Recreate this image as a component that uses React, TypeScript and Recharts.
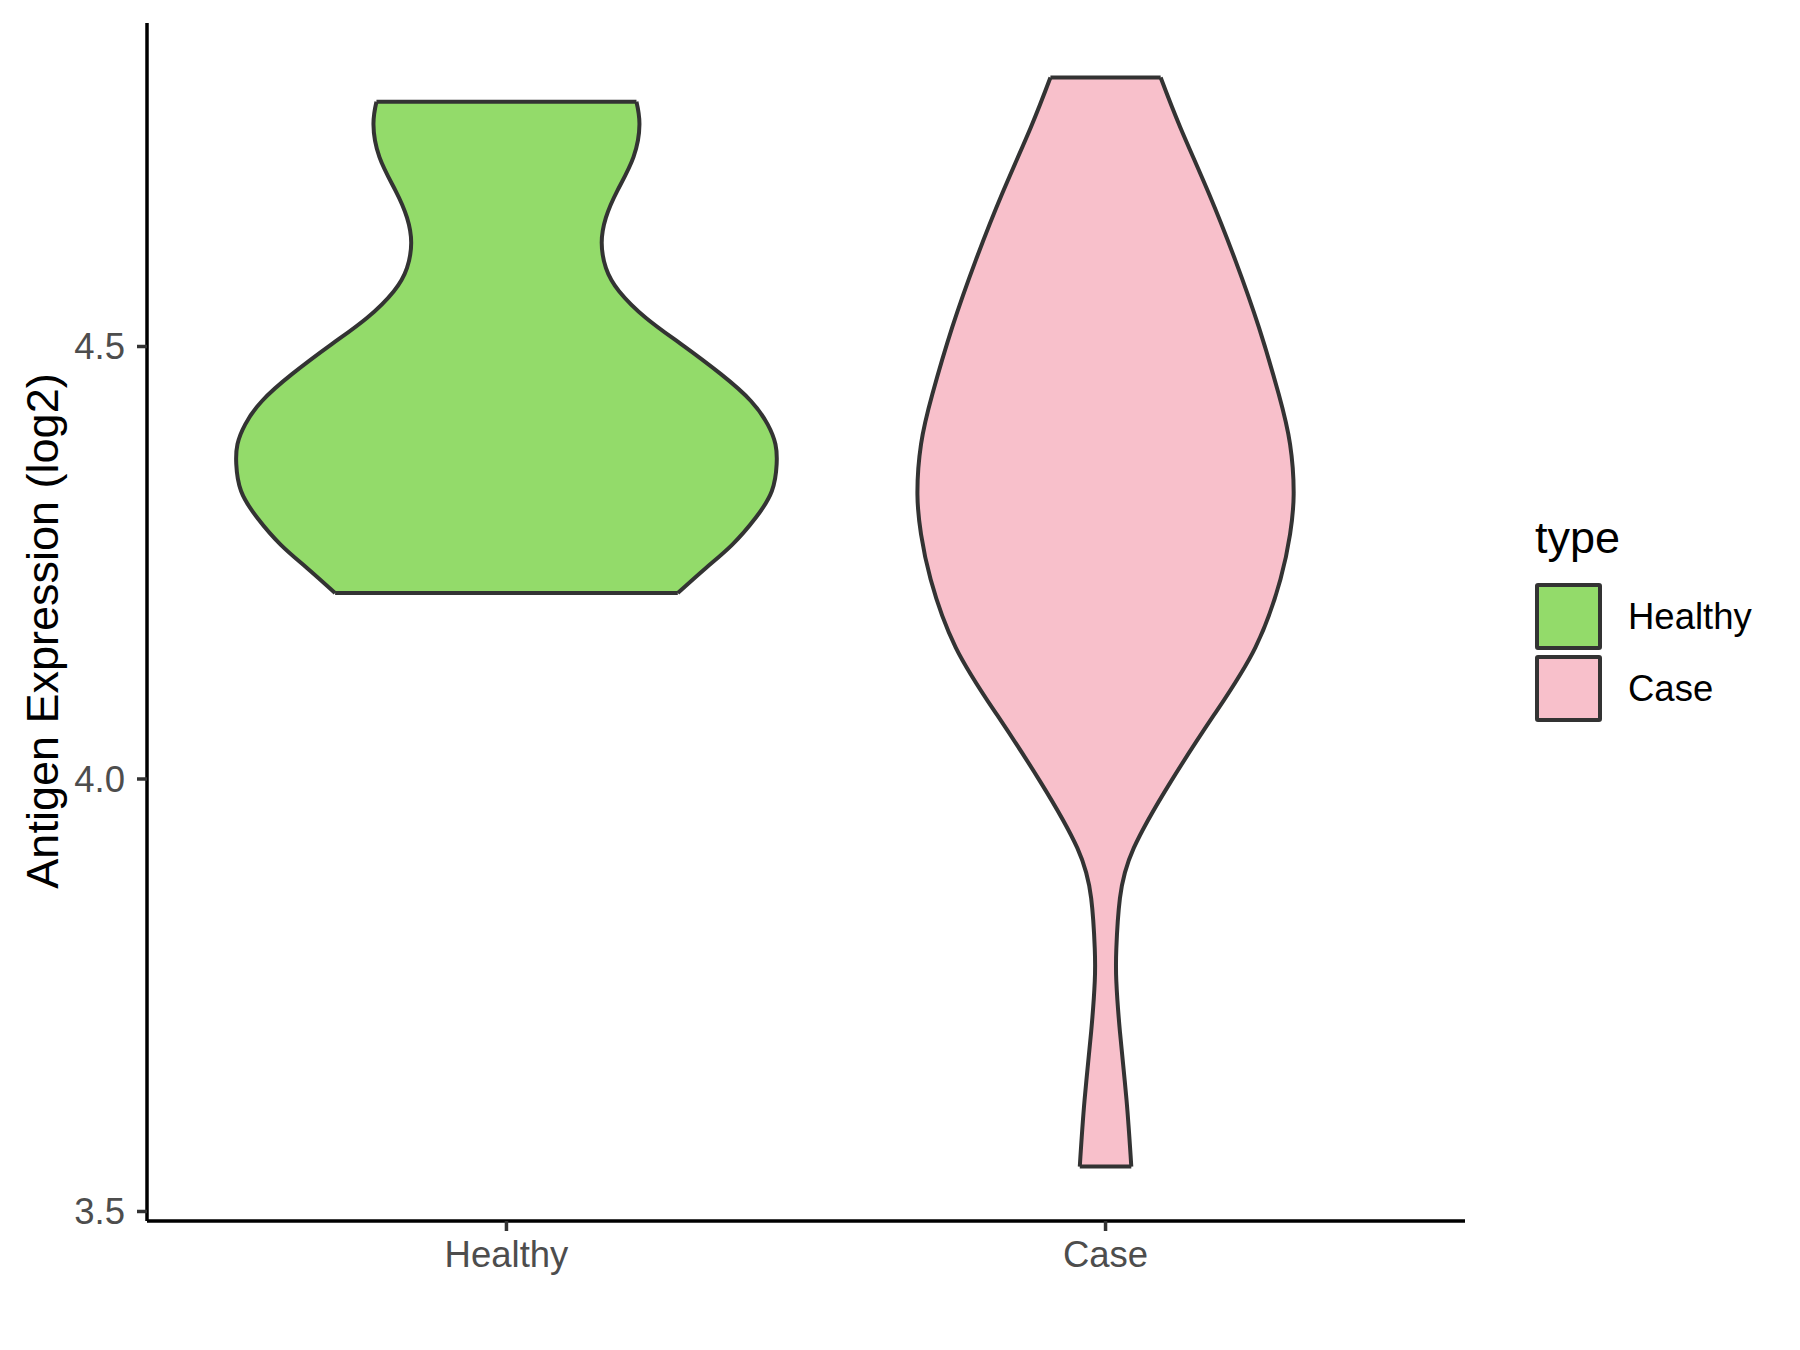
import React from 'react';
import { ComposedChart, Area, XAxis, YAxis, ReferenceLine, Legend } from 'recharts';

const groups = ['Healthy', 'Case'];
const groupColors = ['#93DB6A', '#F8C0CB'];
const yTicks = [3.5, 4.0, 4.5];

// Healthy violin: expression level (log2), top to bottom, and half width in x-axis units
const healthyLevels = [
  4.783, 4.757, 4.719, 4.680, 4.649, 4.620, 4.591, 4.564, 4.533, 4.503,
  4.468, 4.437, 4.410, 4.387, 4.364, 4.333, 4.302, 4.271, 4.244, 4.215,
];
const healthyHalfWidth = [
  0.217, 0.222, 0.212, 0.185, 0.166, 0.159, 0.166, 0.188, 0.233, 0.291,
  0.358, 0.408, 0.436, 0.449, 0.451, 0.443, 0.416, 0.377, 0.333, 0.286,
];

// Case violin
const caseLevels = [
  4.811, 4.753, 4.676, 4.599, 4.522, 4.445, 4.387, 4.329, 4.283, 4.231,
  4.152, 4.074, 3.997, 3.920, 3.862, 3.804, 3.766, 3.708, 3.629, 3.552,
];
const caseHalfWidth = [
  0.092, 0.125, 0.173, 0.217, 0.256, 0.289, 0.308, 0.314, 0.308, 0.292,
  0.250, 0.181, 0.109, 0.047, 0.024, 0.018, 0.018, 0.024, 0.035, 0.043,
];

const rows = [
  ...healthyLevels.map((level, i) => ({ level, healthy: healthyHalfWidth[i] })),
  ...caseLevels.map((level, i) => ({ level, case: caseHalfWidth[i] })),
];

const FONT = 'Liberation Sans, Arial, Helvetica, sans-serif';
const OUTLINE = '#333333';

const violinRange = (center: number, key: string) => (row: any) =>
  row[key] == null ? [null, null] : [center - row[key], center + row[key]];

// flat top and bottom edges of a trimmed violin
const violinCaps = (center: number, levels: number[], widths: number[]) =>
  [0, levels.length - 1].map((i) => [
    { x: center - widths[i], y: levels[i] },
    { x: center + widths[i], y: levels[i] },
  ]);

const renderLegend = () => (
  <div style={{ fontFamily: FONT, color: '#000' }}>
    <div style={{ fontSize: 45, lineHeight: '44px', marginBottom: 23 }}>type</div>
    {groups.map((g, i) => (
      <div key={g} style={{ display: 'flex', alignItems: 'center', height: 67, marginBottom: 5 }}>
        <div
          style={{
            width: 59,
            height: 59,
            background: groupColors[i],
            border: `4px solid ${OUTLINE}`,
            borderRadius: 3,
          }}
        />
        <span style={{ marginLeft: 26, fontSize: 36.5 }}>{g}</span>
      </div>
    ))}
  </div>
);

export default function App() {
  const allCaps = [
    ...violinCaps(1, healthyLevels, healthyHalfWidth),
    ...violinCaps(2, caseLevels, caseHalfWidth),
  ];

  return (
    <div style={{ position: 'absolute', left: 0, top: 0, background: '#fff' }}>
      <ComposedChart
        width={1800}
        height={1350}
        layout="vertical"
        data={rows}
        margin={{ top: 23, right: 335, bottom: 69, left: 87 }}
      >
        <XAxis
          type="number"
          domain={[0.4, 2.6]}
          ticks={[1, 2]}
          tickFormatter={(v) => groups[v - 1]}
          height={60}
          axisLine={{ stroke: '#000', strokeWidth: 3.5 }}
          tickLine={{ stroke: OUTLINE, strokeWidth: 3.5 }}
          tickSize={10}
          tickMargin={10}
          tick={{ fill: '#4D4D4D', fontSize: 36.5, fontFamily: FONT }}
        />
        <YAxis
          type="number"
          dataKey="level"
          reversed
          domain={[3.489, 4.874]}
          ticks={yTicks}
          tickFormatter={(v) => v.toFixed(1)}
          width={60}
          axisLine={{ stroke: '#000', strokeWidth: 3.5 }}
          tickLine={{ stroke: OUTLINE, strokeWidth: 3.5 }}
          tickSize={10}
          tickMargin={12}
          tick={{ fill: '#4D4D4D', fontSize: 36.5, fontFamily: FONT }}
          label={{
            value: 'Antigen Expression (log2)',
            angle: -90,
            position: 'insideLeft',
            offset: -45,
            dy: 9,
            style: { textAnchor: 'middle', fontSize: 45, fontFamily: FONT, fill: '#000' },
          }}
        />
        <Area
          name="Healthy"
          dataKey={violinRange(1, 'healthy')}
          type="natural"
          fill={groupColors[0]}
          fillOpacity={1}
          stroke={OUTLINE}
          strokeWidth={4}
          isAnimationActive={false}
          dot={false}
          activeDot={false}
        />
        <Area
          name="Case"
          dataKey={violinRange(2, 'case')}
          type="natural"
          fill={groupColors[1]}
          fillOpacity={1}
          stroke={OUTLINE}
          strokeWidth={4}
          isAnimationActive={false}
          dot={false}
          activeDot={false}
        />
        {allCaps.map((seg, i) => (
          <ReferenceLine key={i} segment={seg} stroke={OUTLINE} strokeWidth={4} />
        ))}
        <Legend
          layout="vertical"
          align="center"
          verticalAlign="middle"
          content={renderLegend}
          wrapperStyle={{ left: 1535, top: 516, width: 260, margin: 0 }}
        />
      </ComposedChart>
    </div>
  );
}
